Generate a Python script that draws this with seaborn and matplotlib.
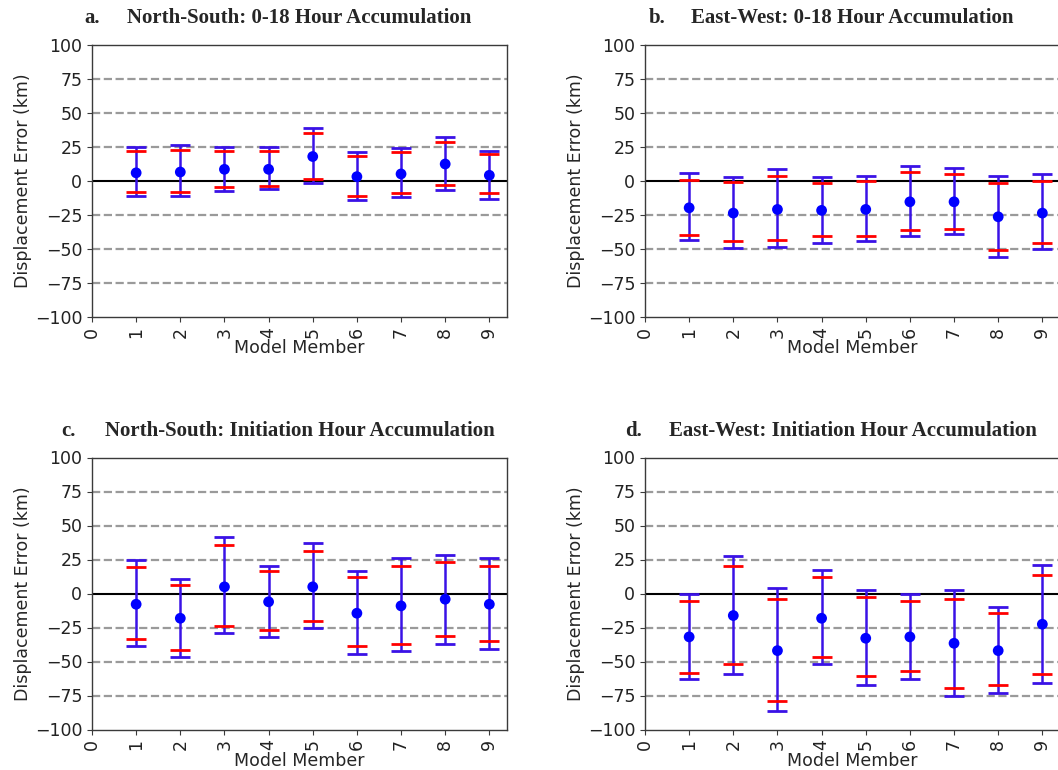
import numpy as np
import pandas as pd
import seaborn as sns
import matplotlib
matplotlib.use("Agg")
import matplotlib.pyplot as plt

# ---------------- data ----------------
members = [1, 2, 3, 4, 5, 6, 7, 8, 9]
x_ticks = [0, 1, 2, 3, 4, 5, 6, 7, 8, 9]
y_ticks = [-100, -75, -50, -25, 0, 25, 50, 75, 100]
dashed_levels = [-75, -50, -25, 25, 50, 75]

panel_labels = ["a.", "b.", "c.", "d."]
panel_titles = ["North-South: 0-18 Hour Accumulation",
                "East-West: 0-18 Hour Accumulation",
                "North-South: Initiation Hour Accumulation",
                "East-West: Initiation Hour Accumulation"]

# panel a: North-South, 0-18 h
a_mean     = [6.0, 6.6, 8.6, 8.6, 18.0, 3.2, 5.2, 12.5, 4.2]
a_outer_hi = [25.3, 26.8, 25.3, 25.3, 39.0, 21.4, 24.1, 32.7, 22.4]
a_inner_hi = [22.1, 23.1, 22.1, 22.1, 35.2, 18.7, 21.2, 28.5, 19.7]
a_inner_lo = [-8.4, -8.4, -4.7, -3.7, 1.5, -11.0, -9.1, -2.7, -9.1]
a_outer_lo = [-11.1, -11.0, -7.4, -5.9, -1.5, -13.8, -12.0, -6.4, -13.0]

# panel b: East-West, 0-18 h
b_mean     = [-19.7, -23.6, -20.9, -21.6, -20.9, -15.3, -15.3, -26.3, -23.6]
b_outer_hi = [5.7, 2.7, 8.6, 2.7, 3.9, 11.3, 9.3, 3.9, 4.9]
b_inner_hi = [0.7, -0.7, 3.9, -1.5, 0.2, 6.4, 4.9, -1.5, 0.0]
b_inner_lo = [-39.9, -44.0, -43.5, -40.8, -40.8, -35.9, -35.2, -50.7, -45.3]
b_outer_lo = [-43.3, -49.0, -48.5, -45.3, -44.3, -40.1, -38.9, -55.6, -49.9]

# panel c: North-South, initiation hour
c_mean     = [-7.9, -18.2, 4.9, -6.1, 4.9, -14.5, -9.1, -4.2, -7.9]
c_outer_hi = [24.3, 11.0, 41.5, 20.4, 37.0, 16.4, 25.8, 28.5, 25.8]
c_inner_hi = [19.4, 6.6, 35.8, 16.4, 31.4, 11.8, 20.4, 23.1, 20.4]
c_inner_lo = [-33.4, -41.5, -24.0, -26.7, -20.4, -38.8, -37.1, -31.4, -34.8]
c_outer_lo = [-38.8, -46.6, -29.4, -31.7, -25.3, -44.4, -42.2, -37.1, -40.7]

# panel d: East-West, initiation hour
d_mean     = [-31.9, -16.2, -42.0, -18.2, -32.9, -31.9, -36.6, -42.0, -22.6]
d_outer_hi = [-0.7, 27.7, 3.7, 17.4, 2.7, -0.7, 2.7, -10.1, 21.1]
d_inner_hi = [-5.6, 20.1, -3.9, 11.8, -2.9, -5.6, -3.9, -14.7, 13.7]
d_inner_lo = [-58.2, -51.8, -79.3, -46.4, -60.9, -57.2, -69.2, -67.5, -58.9]
d_outer_lo = [-62.8, -58.9, -86.6, -51.8, -67.2, -62.8, -75.6, -72.9, -65.5]

panels = [
    (a_mean, a_outer_lo, a_outer_hi, a_inner_lo, a_inner_hi),
    (b_mean, b_outer_lo, b_outer_hi, b_inner_lo, b_inner_hi),
    (c_mean, c_outer_lo, c_outer_hi, c_inner_lo, c_inner_hi),
    (d_mean, d_outer_lo, d_outer_hi, d_inner_lo, d_inner_hi),
]

# ---------------- style ----------------
sns.set_style("ticks")
plt.rcParams["font.family"] = ["DejaVu Sans"]
plt.rcParams["font.size"] = 12.5

W, H = 1058, 770
fig = plt.figure(figsize=(W / 100, H / 100), dpi=100)

# axes rectangles (figure fraction)
axw = 415 / W
axh = 272 / H
rects = [
    (92 / W, 1 - 317 / H, axw, axh),
    (645 / W, 1 - 317 / H, axw, axh),
    (92 / W, 1 - 729.5 / H, axw, axh),
    (645 / W, 1 - 729.5 / H, axw, axh),
]

line_col = "#3a12e6"
spine_col = "#3a3a3a"

for i, (mean, olo, ohi, ilo, ihi) in enumerate(panels):
    ax = fig.add_axes(rects[i])
    mean = np.asarray(mean)
    olo, ohi = np.asarray(olo), np.asarray(ohi)
    ilo, ihi = np.asarray(ilo), np.asarray(ihi)

    for lv in dashed_levels:
        ax.axhline(lv, color="#9a9a9a", ls="--", lw=1.6, zorder=1)
    ax.axhline(0, color="black", lw=1.5, zorder=2)

    eb = ax.errorbar(members, mean, yerr=[mean - olo, ohi - mean], fmt="none",
                     ecolor=line_col, elinewidth=1.8, capsize=7, capthick=2.0,
                     zorder=3)
    for cl in eb[1]:
        cl.set_color("#0000ff")
    ax.errorbar(members, mean, yerr=[mean - ilo, ihi - mean], fmt="none",
                ecolor="#ff0000", elinewidth=0, capsize=7, capthick=2.0,
                zorder=4)

    df = pd.DataFrame({"member": members, "mean": mean})
    sns.scatterplot(data=df, x="member", y="mean", ax=ax, color="#0000ff",
                    s=60, edgecolor="none", zorder=5, legend=False)

    ax.set_xlim(0, 9.4)
    ax.set_ylim(-100, 100)
    ax.set_xticks(x_ticks)
    ax.set_xticklabels([str(t) for t in x_ticks], rotation=90)
    ax.set_yticks(y_ticks)
    ax.set_xlabel("Model Member", labelpad=1)
    ax.set_ylabel("Displacement Error (km)", labelpad=2)
    ax.tick_params(axis="both", labelsize=12.5, color=spine_col,
                   labelcolor="#222222")
    for sp in ax.spines.values():
        sp.set_color(spine_col)
        sp.set_linewidth(1.0)

    title = ax.set_title(panel_titles[i], fontfamily="Liberation Serif",
                         fontweight="bold", fontsize=15, pad=15.5)
    ax.annotate(panel_labels[i], xy=(0, 0), xycoords=title,
                xytext=(-43, 0), textcoords="offset pixels",
                ha="left", va="bottom", fontfamily="Liberation Serif",
                fontweight="bold", fontsize=15)

fig.savefig("out.png", dpi=100)
